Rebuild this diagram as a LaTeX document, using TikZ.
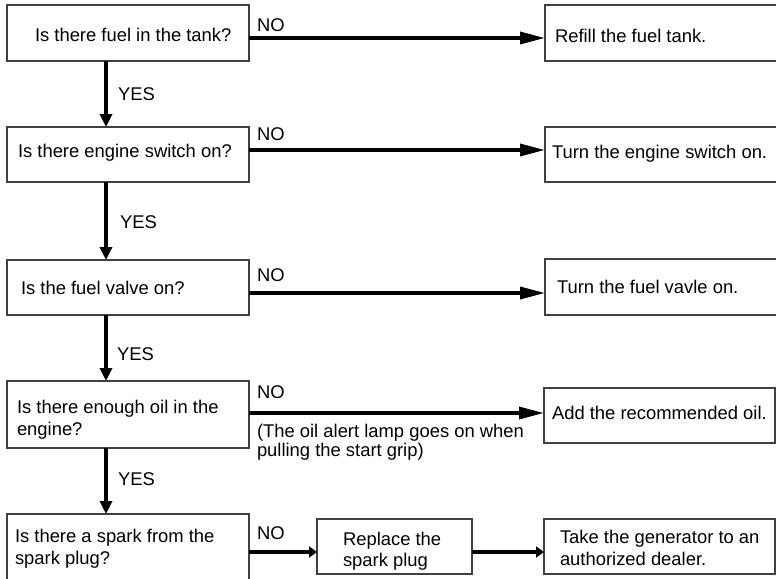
\documentclass[tikz,border=0pt]{standalone}
\usepackage{fontspec}
\setmainfont{Liberation Sans}
\usetikzlibrary{arrows.meta}
\tikzset{
  boxnode/.style={draw=black!75, line width=1.3pt, inner sep=0pt, outer sep=0pt},
  txt/.style={anchor=base west, inner sep=0pt, outer sep=0pt, font=\fontsize{18.4}{22}\selectfont},
  harrow/.style={line width=3.4pt, -{Triangle[length=25pt,width=12pt]}},
  varrow/.style={line width=3.4pt, -{Triangle[length=13pt,width=12pt]}},
  sarrow/.style={line width=3.4pt, -{Triangle[length=8pt,width=11pt]}}
}
\begin{document}
\begin{tikzpicture}[x=1pt,y=-1pt]
\useasboundingbox (0,0) rectangle (776,578);
\fill[white] (0,0) rectangle (776,578);
\clip (0,0) rectangle (776,578);

% left column boxes
\node[boxnode, minimum width=242pt, minimum height=56pt] (L1) at (128,33) {};
\node[boxnode, minimum width=242pt, minimum height=55pt] (L2) at (128,154.5) {};
\node[boxnode, minimum width=242pt, minimum height=55pt] (L3) at (128,287.5) {};
\node[boxnode, minimum width=242pt, minimum height=67pt] (L4) at (128,414.5) {};
\node[boxnode, minimum width=242pt, minimum height=76pt] (L5) at (128,552) {};

% right column boxes
\node[boxnode, minimum width=245pt, minimum height=56pt] (R1) at (667.5,33) {};
\node[boxnode, minimum width=245pt, minimum height=55pt] (R2) at (667.5,154.5) {};
\node[boxnode, minimum width=245pt, minimum height=56pt] (R3) at (667.5,287) {};
\node[boxnode, minimum width=231pt, minimum height=55pt] (R4) at (659.5,415.5) {};
\node[boxnode, minimum width=231pt, minimum height=55pt] (R5) at (659.5,546.5) {};
\node[boxnode, minimum width=155pt, minimum height=55pt] (Rep) at (394.5,546.5) {};

% texts
\node[txt] (t1) at (35,42) {Is there fuel in the tank?};
\node[txt] (t2) at (18,157.5) {Is there engine switch on?};
\node[txt] (t3) at (21,294.5) {Is the fuel valve on?};
\node[txt] (t4a) at (17,413.5) {Is there enough oil in the};
\node[txt] (t4b) at (17,435) {engine?};
\node[txt] (t5a) at (15,542) {Is there a spark from the};
\node[txt] (t5b) at (15,564) {spark plug?};

\node[txt] (r1) at (555,43) {Refill the fuel tank.};
\node[txt] (r2) at (552,158) {Turn the engine switch on.};
\node[txt] (r3) at (557,293.3) {Turn the fuel vavle on.};
\node[txt] (r4) at (552,419.3) {Add the recommended oil.};
\node[txt] (r5a) at (560,543.3) {Take the generator to an};
\node[txt] (r5b) at (560,565) {authorized dealer.};
\node[txt] (repa) at (343,545) {Replace the};
\node[txt] (repb) at (343,566) {spark plug};

% labels
\node[txt] (no1) at (257,31.7) {NO};
\node[txt] (no2) at (257,140) {NO};
\node[txt] (no3) at (257,281.7) {NO};
\node[txt] (no4) at (257,398) {NO};
\node[txt] (no5) at (257,539) {NO};
\node[txt] (yes1) at (118,100) {YES};
\node[txt] (yes2) at (120,228.3) {YES};
\node[txt] (yes3) at (117,360) {YES};
\node[txt] (yes4) at (118,485) {YES};
\node[txt] (notea) at (257,437.5) {(The oil alert lamp goes on when};
\node[txt] (noteb) at (257,456) {pulling the start grip)};

% horizontal arrows
\draw[harrow] (L1.east |- 0,38) -- (R1.west |- 0,38);
\draw[harrow] (L2.east |- 0,150) -- (R2.west |- 0,150);
\draw[harrow] (L3.east |- 0,293) -- (R3.west |- 0,293);
\draw[harrow] (L4.east |- 0,413) -- (R4.west |- 0,413);
\draw[sarrow] (L5.east |- 0,552) -- (Rep.west |- 0,552);
\draw[sarrow] (Rep.east |- 0,552) -- (R5.west |- 0,552);

% vertical arrows
\draw[varrow] ([xshift=-22pt]L1.south) -- ([xshift=-22pt]L2.north);
\draw[varrow] ([xshift=-22pt]L2.south) -- ([xshift=-22pt]L3.north);
\draw[varrow] ([xshift=-22pt]L3.south) -- ([xshift=-22pt]L4.north);
\draw[varrow] ([xshift=-22pt]L4.south) -- ([xshift=-22pt]L5.north);
\end{tikzpicture}
\end{document}
